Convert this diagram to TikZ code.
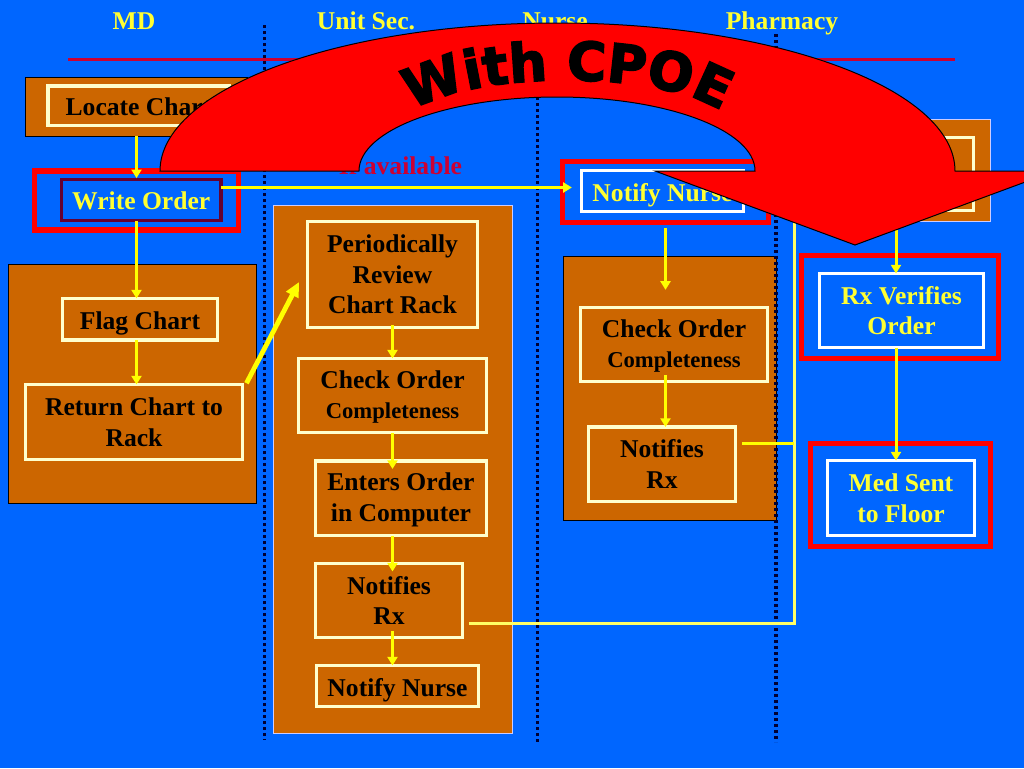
\documentclass[tikz,border=0pt]{standalone}
\usepackage{fontspec}
\setmainfont{Liberation Serif}
\newfontfamily\wafont[FakeBold=3]{DejaVu Sans Bold}
\usetikzlibrary{arrows.meta,decorations.text}
\definecolor{bgblue}{HTML}{0066FF}
\definecolor{orng}{HTML}{CC6600}
\definecolor{creamy}{HTML}{FFFFCC}
\definecolor{yel}{HTML}{FFFF00}
\definecolor{paleyel}{HTML}{FFFF66}
\definecolor{txtyel}{HTML}{FFFF33}
\definecolor{redline}{HTML}{CC0033}
\definecolor{maroon}{HTML}{660033}
\definecolor{dotc}{HTML}{000033}
\definecolor{palebd}{HTML}{CCCCFF}
\tikzset{
  x=0.75pt,y=-0.75pt,
  basefont/.style={font=\fontsize{19.2}{23}\selectfont\bfseries,align=center,inner sep=0pt,outer sep=0pt},
  header/.style={basefont,text=txtyel,anchor=base},
  panel/.style={draw=black,line width=0.75pt,fill=orng,inner sep=0pt,outer sep=0pt},
  palepanel/.style={draw=palebd,line width=0.75pt,fill=orng,inner sep=0pt,outer sep=0pt},
  stepbox/.style={basefont,draw=creamy,line width=2.4pt,fill=orng,text=black},
  hotbox/.style={basefont,draw=white,line width=2.4pt,fill=bgblue,text=txtyel},
  writebox/.style={basefont,draw=maroon,line width=2.6pt,fill=bgblue,text=txtyel},
  halo/.style={draw=red,line width=4.2pt,inner sep=0pt,outer sep=0pt},
  flow/.style={draw=yel,line width=2.25pt,-{Triangle[width=7.5pt,length=6.5pt]}},
  plainflow/.style={draw=yel,line width=2.25pt},
  paleflow/.style={draw=paleyel,line width=2.25pt},
  lane/.style={draw=dotc,line width=2.5pt,dash pattern=on 2.25pt off 2.25pt},
  bigarrow/.style={draw=black,line width=0.75pt,fill=red},
}
\newcommand{\boxat}[7]{%
  \pgfmathsetmacro\cx{(#3+#5)/2}\pgfmathsetmacro\cy{(#4+#6)/2}%
  \pgfmathsetmacro\bw{(#5-#3)*.75}\pgfmathsetmacro\bh{(#6-#4)*.75}%
  \node[#2,minimum width=\bw pt,minimum height=\bh pt] (#1) at (\cx,\cy) {#7};}
\newcommand{\smallc}{\fontsize{17}{23}\selectfont}
\newcommand{\lowr}[2]{\raisebox{-#1pt}[\height][\depth]{#2}}
\begin{document}
\begin{tikzpicture}
\useasboundingbox (0,0) rectangle (1024,768);
\clip (0,0) rectangle (1024,768);
\fill[bgblue] (0,0) rectangle (1024,768);

% column rule and lanes
\coordinate (ruleL) at (68,59.5);
\coordinate (ruleR) at (955,59.5);
\draw[redline,line width=2.25pt] (ruleL) -- (ruleR);
\coordinate (laneAt) at (264.5,25); \coordinate (laneAb) at (264.5,740);
\coordinate (laneBt) at (537.5,25); \coordinate (laneBb) at (537.5,742);
\coordinate (laneCt) at (776,34);   \coordinate (laneCb) at (776,742);
\draw[lane] (laneAt) -- (laneAb);
\draw[lane] (laneBt) -- (laneBb);

% headers
\node[header] (hmd) at (134,29.5) {MD};
\node[header] (hunit) at (366,29.5) {Unit Sec.};
\node[header] (hnurse) at (555,29.5) {Nurse};
\node[header] (hpharm) at (782,29.5) {Pharmacy};

% panels
\boxat{pLocate}{panel}{25.5}{77}{247}{136}{}
\boxat{pMD}{panel}{8.5}{264.5}{256}{503.5}{}
\boxat{pUnit}{palepanel}{273.5}{205.5}{512}{733.5}{}
\boxat{pNurse}{panel}{563}{256.5}{776}{520.5}{}
\boxat{pRx}{palepanel}{812}{119.5}{990}{221}{}

\draw[lane] (laneCt) -- (laneCb);

% halos
\boxat{hWrite}{halo}{34.5}{171}{238.5}{230}{}
\boxat{hNotify}{halo}{562.5}{161.5}{768.5}{222.5}{}
\boxat{hVerify}{halo}{801.5}{255.5}{998.5}{358.5}{}
\boxat{hMed}{halo}{810.5}{443.5}{990.5}{546.5}{}

\coordinate (xmd) at (136.5,0);
\coordinate (xunit) at (392.5,0);
\coordinate (xnurse) at (665.5,0);
\coordinate (xrx) at (896,0);

\node[basefont,text=redline,anchor=base east] (avail) at (462,174.5) {If available};

\boxat{locate}{stepbox}{48}{86}{229}{125.5}{\lowr{0.75}{Locate Chart}}
\boxat{write}{writebox}{61.5}{179.5}{221}{220.5}{\lowr{0.75}{Write Order}}
\boxat{flag}{stepbox}{62.5}{298.5}{217.5}{340}{\lowr{3}{Flag Chart}}
\boxat{ret}{stepbox}{25.5}{384.5}{242.5}{459.5}{Return Chart to\\Rack}

\boxat{review}{stepbox}{307.5}{221.5}{477.5}{327.5}{Periodically\\Review\\Chart Rack}
\boxat{check}{stepbox}{298.5}{358.5}{486.5}{432.5}{\lowr{1.5}{\begin{tabular}{@{}c@{}}Check Order\\{\smallc Completeness}\end{tabular}}}
\boxat{enters}{stepbox}{315.5}{461}{486.5}{535.5}{\lowr{1}{\begin{tabular}{@{}c@{}}Enters Order\\in Computer\end{tabular}}}
\boxat{notifyrx}{stepbox}{315.5}{563.5}{462.5}{637.5}{Notifies\\Rx}
\boxat{notifyn}{stepbox}{316.5}{665.5}{478.5}{706.5}{\lowr{3}{Notify Nurse}}

\boxat{notify}{hotbox}{581.5}{170.5}{743.5}{211.5}{\lowr{3}{Notify Nurse}}
\boxat{ncheck}{stepbox}{580.5}{307.5}{767.5}{381.5}{\lowr{1.5}{\begin{tabular}{@{}c@{}}Check Order\\{\smallc Completeness}\end{tabular}}}
\boxat{nrx}{stepbox}{588.5}{427}{735.5}{501.5}{Notifies\\Rx}

\boxat{rxtop}{stepbox}{828}{137.5}{973.5}{210.5}{}
\boxat{verify}{hotbox}{819.5}{273.5}{983.5}{347.5}{Rx Verifies\\Order}
\boxat{med}{hotbox}{827.5}{460.5}{974.5}{535.5}{Med Sent\\to Floor}

% connectors
\coordinate (diagTip) at (299,282);
\coordinate (orderY) at (0,187.5);
\draw[flow] (pLocate.south -| xmd) -- ([yshift=1pt]write.north -| xmd);
\draw[flow] (write.south -| xmd) -- (flag.north -| xmd);
\draw[flow] (flag.south -| xmd) -- (ret.north -| xmd);
\draw[draw=yel,line width=3.6pt,-{Triangle[width=10pt,length=11pt]}] ([xshift=3pt,yshift=1pt]ret.north east) -- (diagTip);
\draw[flow] ([yshift=2pt]review.south -| xunit) -- (check.north -| xunit);
\draw[flow] (check.south -| xunit) -- ([yshift=-6pt]enters.north -| xunit);
\draw[flow] (enters.south -| xunit) -- ([yshift=-6pt]notifyrx.north -| xunit);
\draw[flow] ([yshift=5pt]notifyrx.south -| xunit) -- (notifyn.north -| xunit);
\draw[flow] (write.east |- orderY) -- ([xshift=7pt]hNotify.west |- orderY);
\draw[flow] ([yshift=-4pt]hNotify.south -| xnurse) -- ([yshift=-25pt]pNurse.north -| xnurse);
\draw[flow] ([yshift=5pt]ncheck.south -| xnurse) -- (nrx.north -| xnurse);
\coordinate (busTop) at (794,200);
\coordinate (busMid) at (794,443);
\coordinate (busBot) at (794,623);
\draw[paleflow] ([xshift=5pt]notifyrx.east |- busBot) -- (busBot) -- (busTop);
\draw[plainflow] ([xshift=5pt]nrx.east |- busMid) -- (busMid);
\draw[flow] ([yshift=-7pt]pRx.south -| xrx) -- (verify.north -| xrx);
\draw[flow] (verify.south -| xrx) -- (med.north -| xrx);

% big curved arrow
\draw[bigarrow,line join=miter] (160,171) .. controls (160,89.3) and (338,23) .. (557.5,23)
  .. controls (777,23) and (955,89.3) .. (955,171)
  -- (1055,171) -- (855,245) -- (655,171) -- (755,171)
  .. controls (755,130.1) and (666.4,97) .. (557,97)
  .. controls (447.6,97) and (359,130.1) .. (359,171) -- cycle;
\path[decorate,decoration={text along path,text align=center,
   text={|\fontsize{40}{40}\selectfont\wafont|With CPOE}}]
   (388,126) -- (418,108) .. controls (480,71) and (654,71) .. (716,108) -- (746,126);
\end{tikzpicture}
\end{document}
